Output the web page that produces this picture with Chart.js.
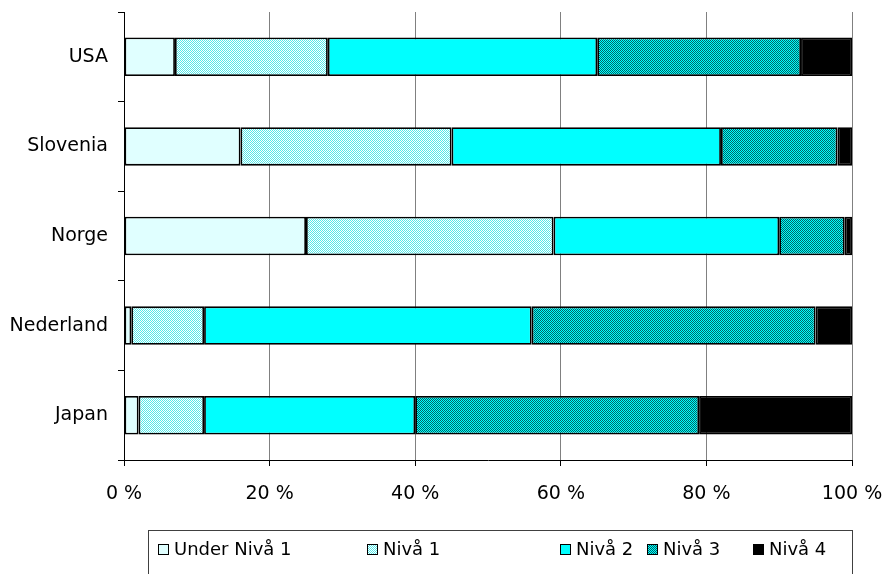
<!DOCTYPE html>
<html>
<head>
<meta charset="utf-8">
<script src="https://cdn.jsdelivr.net/npm/chart.js@4/dist/chart.umd.min.js"></script>
<style>
  html, body { margin: 0; padding: 0; background: #fff; }
  #wrap { width: 885px; height: 574px; position: relative; }
</style>
</head>
<body>
<div id="wrap"><canvas id="c"></canvas></div>
<script>
// ---- data ----
const categories = ['USA', 'Slovenia', 'Norge', 'Nederland', 'Japan'];
const seriesNames = ['Under Nivå 1', 'Nivå 1', 'Nivå 2', 'Nivå 3', 'Nivå 4'];
const underNiva1 = [7, 16, 25, 1, 2];
const niva1 = [21, 29, 34, 10, 9];
const niva2 = [37, 37, 31, 45, 29];
const niva3 = [28, 16, 9, 39, 39];
const niva4 = [7, 2, 1, 5, 21];
const xTicks = [0, 20, 40, 60, 80, 100];

// ---- patterns ----
function checker(a, b) {
  const c = document.createElement('canvas');
  c.width = 2; c.height = 2;
  const g = c.getContext('2d');
  g.fillStyle = a; g.fillRect(0, 0, 2, 2);
  g.fillStyle = b; g.fillRect(0, 0, 1, 1); g.fillRect(1, 1, 1, 1);
  return document.getElementById('c').getContext('2d').createPattern(c, 'repeat');
}
const fills = [
  '#e0ffff',
  checker('#ffffff', '#55e8e8'),
  '#00ffff',
  checker('#00ffff', '#006464'),
  '#000000'
];

const FONT = 'DejaVu Sans';
const seriesData = [underNiva1, niva1, niva2, niva3, niva4];

const datasets = seriesNames.map((name, i) => ({
  label: name,
  data: seriesData[i],
  backgroundColor: fills[i],
  borderColor: '#000000',
  borderWidth: 1.8,
  borderSkipped: false,
  categoryPercentage: 1.0,
  barPercentage: 0.43
}));

// custom legend in a box
const legendBox = {
  id: 'legendBox',
  afterDraw(chart) {
    const ctx = chart.ctx;
    ctx.save();
    ctx.strokeStyle = '#404040';
    ctx.lineWidth = 1;
    ctx.strokeRect(148.5, 530.5, 704, 60);
    const xs = [158, 367, 560, 647, 753];
    const yc = 549;
    ctx.font = '18px "' + FONT + '"';
    ctx.textBaseline = 'middle';
    ctx.textAlign = 'left';
    chart.data.datasets.forEach((ds, i) => {
      const x = xs[i];
      ctx.fillStyle = ds.backgroundColor;
      ctx.fillRect(x, yc - 5, 10, 10);
      ctx.strokeStyle = '#000';
      ctx.strokeRect(x + 0.5, yc - 4.5, 10, 10);
      ctx.fillStyle = '#000';
      ctx.fillText(ds.label, x + 16, yc + 1);
    });
    ctx.restore();
  }
};

new Chart(document.getElementById('c'), {
  type: 'bar',
  data: { labels: categories, datasets },
  options: {
    indexAxis: 'y',
    responsive: true,
    maintainAspectRatio: false,
    animation: false,
    layout: { padding: { top: 12, right: 33, left: 0, bottom: 0 } },
    plugins: {
      legend: { display: false },
      tooltip: { enabled: false }
    },
    scales: {
      x: {
        stacked: true,
        min: 0,
        max: 100,
        afterFit(s) { s.height = 114; s.paddingLeft = 0; s.paddingRight = 0; },
        afterBuildTicks(s) { s.ticks = xTicks.map(v => ({ value: v })); },
        ticks: {
          stepSize: 20,
          padding: 17,
          color: '#000',
          font: { family: FONT, size: 19 },
          callback: v => v + ' %',
          maxRotation: 0
        },
        grid: {
          color: '#808080',
          lineWidth: 1,
          tickLength: 6,
          tickColor: '#000',
          drawTicks: true
        },
        border: { display: true, color: '#000', width: 1 }
      },
      y: {
        stacked: true,
        afterFit(s) { s.width = 124; s.paddingTop = 0; s.paddingBottom = 0; },
        ticks: {
          padding: 10,
          color: '#000',
          font: { family: FONT, size: 19 }
        },
        grid: {
          offset: true,
          drawOnChartArea: false,
          tickLength: 6,
          tickColor: '#000',
          color: '#000'
        },
        border: { display: true, color: '#000', width: 1 }
      }
    }
  },
  plugins: [legendBox]
});
</script>
</body>
</html>
